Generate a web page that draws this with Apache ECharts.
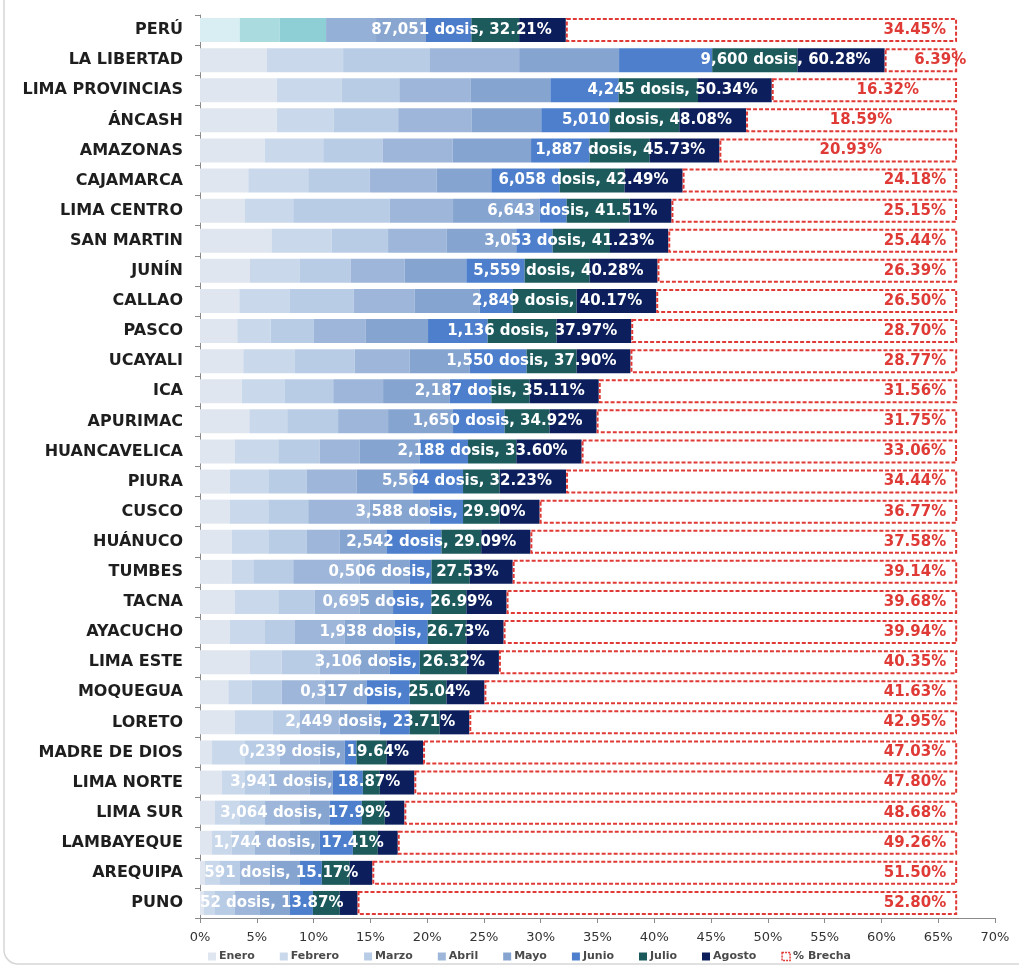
<!DOCTYPE html>
<html>
<head>
<meta charset="utf-8">
<script src="https://cdn.jsdelivr.net/npm/echarts@6/dist/echarts.min.js"></script>
<style>
  html, body { margin: 0; padding: 0; background: #ffffff; }
  #chart { width: 1019px; height: 967px; }
</style>
</head>
<body>
<div id="chart"></div>
<script>
// Avance de vacunación por región (% acumulado por mes) y brecha restante
const regiones = ['PERÚ', 'LA LIBERTAD', 'LIMA PROVINCIAS', 'ÁNCASH', 'AMAZONAS', 'CAJAMARCA', 'LIMA CENTRO',
  'SAN MARTIN', 'JUNÍN', 'CALLAO', 'PASCO', 'UCAYALI', 'ICA', 'APURIMAC', 'HUANCAVELICA', 'PIURA', 'CUSCO',
  'HUÁNUCO', 'TUMBES', 'TACNA', 'AYACUCHO', 'LIMA ESTE', 'MOQUEGUA', 'LORETO', 'MADRE DE DIOS', 'LIMA NORTE',
  'LIMA SUR', 'LAMBAYEQUE', 'AREQUIPA', 'PUNO'];

const enero   = [3.5, 5.9, 6.75, 6.75, 5.7, 4.25, 3.96, 6.3, 4.4, 3.46, 3.28, 3.81, 3.67, 4.34, 3.08, 2.64, 2.64, 2.79, 2.79, 3.08, 2.64, 4.4, 2.49, 3.08, 1.06, 1.93, 1.32, 1.06, 0.44, 0.35];
const febrero = [3.5, 6.7, 5.7, 5.0, 5.15, 5.28, 4.25, 5.28, 4.4, 4.46, 2.94, 4.55, 3.81, 3.34, 3.81, 3.37, 3.37, 3.22, 1.9, 3.81, 3.08, 2.79, 2.06, 3.34, 2.9, 2.03, 2.2, 1.75, 1.32, 0.97];
const marzo   = [4.1, 7.6, 5.1, 5.7, 5.25, 5.42, 8.5, 4.98, 4.45, 5.62, 3.81, 5.27, 4.25, 4.48, 3.66, 3.37, 3.52, 3.37, 3.52, 3.22, 2.64, 3.36, 2.64, 2.38, 3.08, 2.2, 2.2, 2.03, 1.76, 1.76];
const abril   = [4.4, 7.9, 6.3, 6.45, 6.15, 5.87, 5.57, 5.14, 4.78, 5.37, 4.57, 4.84, 4.39, 4.4, 3.52, 4.4, 5.42, 2.93, 5.86, 3.96, 4.39, 3.52, 3.8, 3.51, 3.51, 3.51, 3.08, 3.08, 2.64, 2.2];
const mayo    = [4.4, 8.8, 7.0, 6.15, 6.9, 4.83, 7.62, 6.15, 5.42, 5.72, 5.48, 5.28, 5.87, 5.72, 5.28, 4.98, 5.28, 4.11, 4.4, 2.93, 4.4, 2.64, 3.67, 3.52, 2.2, 2.03, 2.63, 2.63, 2.64, 2.64];
const junio   = [4.0, 8.2, 6.0, 6.0, 5.15, 6.01, 2.38, 3.2, 5.13, 2.9, 5.25, 5.01, 3.66, 4.54, 4.25, 4.4, 2.93, 4.84, 1.91, 3.38, 2.9, 2.64, 3.81, 2.64, 1.03, 2.64, 2.82, 2.91, 1.93, 2.02];
const julio   = [4.2, 7.5, 7.0, 6.15, 5.3, 5.72, 5.54, 5.05, 5.72, 5.63, 6.07, 4.4, 3.37, 3.96, 4.25, 3.23, 3.23, 3.5, 3.37, 3.07, 3.4, 4.13, 3.23, 2.64, 2.64, 1.49, 2.02, 2.2, 2.46, 2.37];
const agosto  = [4.11, 7.68, 6.49, 5.88, 6.13, 5.11, 3.69, 5.13, 5.98, 7.01, 6.57, 4.74, 6.09, 4.14, 5.75, 5.84, 3.51, 4.33, 3.78, 3.54, 3.28, 2.84, 3.34, 2.6, 3.22, 3.04, 1.72, 1.75, 1.98, 1.56];

const brecha  = [34.45, 6.39, 16.32, 18.59, 20.93, 24.18, 25.15, 25.44, 26.39, 26.50, 28.70, 28.77, 31.56, 31.75, 33.06, 34.44, 36.77, 37.58, 39.14, 39.68, 39.94, 40.35, 41.63, 42.95, 47.03, 47.80, 48.68, 49.26, 51.50, 52.80];

const dosis   = ['87,051', '9,600', '4,245', '5,010', '1,887', '6,058', '6,643', '3,053', '5,559', '2,849', '1,136', '1,550', '2,187', '1,650', '2,188', '5,564', '3,588', '2,542', '0,506', '0,695', '1,938', '3,106', '0,317', '2,449', '0,239', '3,941', '3,064', '1,744', '591', '52'];
const avance  = [32.21, 60.28, 50.34, 48.08, 45.73, 42.49, 41.51, 41.23, 40.28, 40.17, 37.97, 37.90, 35.11, 34.92, 33.60, 32.23, 29.90, 29.09, 27.53, 26.99, 26.73, 26.32, 25.04, 23.71, 19.64, 18.87, 17.99, 17.41, 15.17, 13.87];

const meses = ['Enero', 'Febrero', 'Marzo', 'Abril', 'Mayo', 'Junio', 'Julio', 'Agosto'];
const valoresMes = [enero, febrero, marzo, abril, mayo, junio, julio, agosto];
const xTicks = [0, 5, 10, 15, 20, 25, 30, 35, 40, 45, 50, 55, 60, 65, 70];

// Paleta
const coloresMes = ['#dfe6ef', '#cad8eb', '#b9cce5', '#9db6d9', '#86a4d0', '#4d7fcc', '#1d5a5c', '#0c1f5c'];
const coloresPeru = ['#d9eef2', '#a9dbdf', '#8dcfd5', '#95b0d6', '#89a6d0', '#4b7dca', '#1d5a5c', '#0b1e5b'];
const rojo = '#df3a35';
const fuente = '"DejaVu Sans", sans-serif';

// Ajuste horizontal de algunas etiquetas de brecha
const desplazaBrecha = { 1: 20, 2: -27, 3: -54, 4: -64 };

const series = valoresMes.map((vals, m) => ({
  name: meses[m],
  type: 'bar',
  stack: 'total',
  barWidth: 24,
  itemStyle: { color: coloresMes[m] },
  emphasis: { disabled: true },
  data: vals.map((v, i) => i === 0 ? { value: v, itemStyle: { color: coloresPeru[m] } } : v),
  label: m === 7 ? {
    show: true,
    position: 'insideRight',
    distance: 14,
    color: '#ffffff',
    fontFamily: fuente,
    fontWeight: 'bold',
    fontSize: 15,
    formatter: p => dosis[p.dataIndex] + ' dosis, ' + avance[p.dataIndex].toFixed(2) + '%'
  } : { show: false }
}));

series.push({
  name: '% Brecha',
  type: 'bar',
  stack: 'total',
  barWidth: 24,
  itemStyle: { color: '#ffffff', borderColor: rojo, borderWidth: 2, borderType: [4, 2] },
  emphasis: { disabled: true },
  data: brecha.map((v, i) => desplazaBrecha[i] !== undefined
    ? { value: v, label: { offset: [desplazaBrecha[i], 0] } }
    : v),
  label: {
    show: true,
    position: 'insideRight',
    distance: 11,
    color: rojo,
    fontFamily: fuente,
    fontWeight: 'bold',
    fontSize: 15,
    formatter: p => brecha[p.dataIndex].toFixed(2) + '%'
  }
});

const chart = echarts.init(document.getElementById('chart'), null, { renderer: 'canvas' });
chart.setOption({
  animation: false,
  backgroundColor: '#ffffff',
  graphic: [{
    type: 'rect',
    silent: true,
    shape: { x: 4, y: -20, width: 1040, height: 984, r: 14 },
    style: { fill: 'none', stroke: '#d6d6d6', lineWidth: 1.5 }
  }],
  grid: { left: 200, right: 24, top: 15, bottom: 49, containLabel: false },
  legend: {
    bottom: 0,
    left: 203,
    itemWidth: 8,
    itemHeight: 8,
    itemGap: 25,
    textStyle: { fontFamily: fuente, fontSize: 11, color: '#4a4a4a', fontWeight: 'bold', padding: [0, 0, 0, -2] },
    data: meses.map(m => ({ name: m, icon: 'rect' })).concat([{
      name: '% Brecha', icon: 'rect',
      itemStyle: { color: '#ffffff', borderColor: rojo, borderWidth: 1.5, borderType: [2, 1] }
    }])
  },
  xAxis: {
    type: 'value',
    min: 0,
    max: 70,
    interval: 5,
    axisLine: { show: true, lineStyle: { color: '#8a8a8a', width: 1 } },
    axisTick: { show: true, length: 5, lineStyle: { color: '#8a8a8a' } },
    splitLine: { show: false },
    axisLabel: {
      margin: 13,
      color: '#333',
      fontFamily: fuente,
      fontSize: 13,
      formatter: v => xTicks.includes(v) ? v + '%' : ''
    }
  },
  yAxis: {
    type: 'category',
    inverse: true,
    data: regiones,
    axisLine: { show: true, lineStyle: { color: '#8a8a8a', width: 1 } },
    axisTick: { show: true, length: 5, lineStyle: { color: '#8a8a8a' } },
    axisLabel: {
      margin: 17,
      color: '#1e1e1e',
      fontFamily: fuente,
      fontWeight: 'bold',
      fontSize: 16
    }
  },
  series: series
});
</script>
</body>
</html>
